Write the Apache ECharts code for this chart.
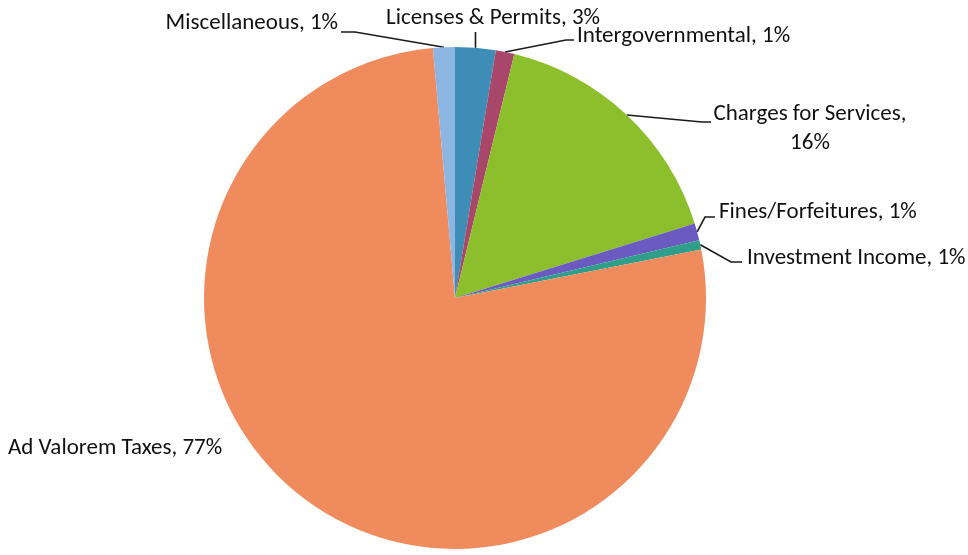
<!DOCTYPE html>
<html>
<head>
<meta charset="utf-8">
<script src="https://cdn.jsdelivr.net/npm/echarts@6/dist/echarts.min.js"></script>
<style>
  html, body { margin: 0; padding: 0; background: #ffffff; }
  #chart { width: 968px; height: 555px; }
</style>
</head>
<body>
<div id="chart"></div>
<script>
// ---- data ----
const categories = [
  'Licenses & Permits',
  'Intergovernmental',
  'Charges for Services',
  'Fines/Forfeitures',
  'Investment Income',
  'Ad Valorem Taxes',
  'Miscellaneous'
];
const shares = [2.6, 1.2, 16.4, 1.1, 0.6, 76.7, 1.4];   // percent of revenue
const wrapAfterComma = ['Charges for Services'];

// ---- styles / layout ----
const colors = ['#3e8db6', '#a9476b', '#8cbf2b', '#6b5bc0', '#2f9f8b', '#f08b5e', '#8cb6e1'];
const lineColor = '#1a1a1a';
const labelPlacement = {
  'Miscellaneous':        { x: 338, y: 23,  align: 'right',  via: [[355, 32], [341, 32]] },
  'Licenses & Permits':   { x: 493, y: 18,  align: 'center', viaX: 'same', viaY: 32 },
  'Intergovernmental':    { x: 577, y: 36,  align: 'left',   via: [[566, 40], [574, 40]] },
  'Charges for Services': { x: 810, y: 129, align: 'center', via: [[702, 122], [711, 122]] },
  'Fines/Forfeitures':    { x: 719, y: 212, align: 'left',   via: [[705, 217], [715, 217]] },
  'Investment Income':    { x: 747, y: 258, align: 'left',   via: [[731, 262], [742, 262]] },
  'Ad Valorem Taxes':     { x: 8,   y: 448, align: 'left',   noLine: true }
};

const chart = echarts.init(document.getElementById('chart'), null, { renderer: 'canvas' });

const seriesData = categories.map((name, i) => ({
  name: name,
  value: shares[i],
  itemStyle: { color: colors[i] },
  labelLine: { show: !labelPlacement[name].noLine }
}));

chart.setOption({
  backgroundColor: '#ffffff',
  animation: false,
  series: [{
    type: 'pie',
    center: [455, 298],
    radius: [0, 251],
    startAngle: 90,
    clockwise: true,
    avoidLabelOverlap: false,
    data: seriesData,
    itemStyle: { borderWidth: 0 },
    label: {
      show: true,
      position: 'outside',
      fontFamily: 'Carlito, Lato, sans-serif',
      fontSize: 23,
      color: '#111111',
      lineHeight: 29,
      formatter: function (p) {
        const sep = wrapAfterComma.indexOf(p.name) >= 0 ? ',\n' : ', ';
        return p.name + sep + Math.round(p.percent) + '%';
      }
    },
    labelLine: {
      show: true,
      length: 10,
      length2: 10,
      smooth: false,
      lineStyle: { color: lineColor, width: 1.6 }
    },
    labelLayout: function (params) {
      const name = categories[params.dataIndex];
      const pl = labelPlacement[name];
      const out = { x: pl.x, y: pl.y, align: pl.align, verticalAlign: 'middle' };
      const pts = params.labelLinePoints;
      if (pts && pts.length && !pl.noLine) {
        const p0 = pts[0];
        if (pl.viaX === 'same') {
          out.labelLinePoints = [p0, [p0[0], pl.viaY]];
        } else {
          out.labelLinePoints = [p0].concat(pl.via);
        }
      }
      return out;
    }
  }]
});
</script>
</body>
</html>
